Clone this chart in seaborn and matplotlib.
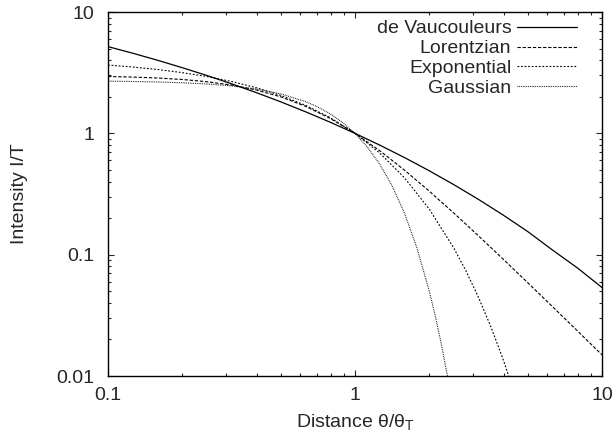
import matplotlib
matplotlib.use("Agg")
import matplotlib.pyplot as plt
import seaborn as sns
import pandas as pd
from matplotlib.ticker import LogLocator, FixedLocator, NullFormatter

# ---- data ----
x_dv = [0.1, 0.12589, 0.15849, 0.19953, 0.25119, 0.31623, 0.39811, 0.50119, 0.63096, 0.79433,
        1.0, 1.25893, 1.58489, 1.99526, 2.51189, 3.16228, 3.98107, 5.01187, 6.30957, 7.94328, 10.0]
y_dv = [5.185, 4.575, 4.005, 3.479, 2.999, 2.561, 2.167, 1.816, 1.505, 1.234,
        1.0, 0.800, 0.632, 0.4922, 0.3777, 0.2853, 0.2120, 0.1547, 0.1090, 0.0779, 0.0536]

x_lor = x_dv
y_lor = [2.941, 2.908, 2.857, 2.779, 2.664, 2.5, 2.278, 1.997, 1.670, 1.326,
         1.0, 0.7195, 0.4980, 0.3347, 0.2203, 0.1429, 0.09175, 0.05855, 0.03721, 0.02359, 0.01493]

x_exp = [0.1, 0.12589, 0.15849, 0.19953, 0.25119, 0.31623, 0.39811, 0.50119, 0.63096, 0.79433,
         1.0, 1.25893, 1.58489, 1.99526, 2.51189, 2.81838, 3.16228, 3.54813, 3.98107, 4.46684]
y_exp = [3.654, 3.521, 3.359, 3.167, 2.940, 2.677, 2.378, 2.051, 1.701, 1.345,
         1.0, 0.6886, 0.4307, 0.2385, 0.1134, 0.07292, 0.04443, 0.02550, 0.01366, 0.00679]

x_gau = [0.1, 0.12589, 0.15849, 0.19953, 0.25119, 0.31623, 0.39811, 0.50119, 0.63096, 0.70795,
         0.79433, 0.89125, 1.0, 1.12202, 1.25893, 1.41254, 1.58489, 1.77828, 1.99526, 2.11349,
         2.23872, 2.37137, 2.51189]
y_gau = [2.691, 2.675, 2.651, 2.612, 2.552, 2.460, 2.320, 2.114, 1.826, 1.647,
         1.446, 1.228, 1.0, 0.7717, 0.5572, 0.3697, 0.2205, 0.1150, 0.05074, 0.03122,
         0.01810, 0.00982, 0.00494]

labels = ["de Vaucouleurs", "Lorentzian", "Exponential", "Gaussian"]
x_ticks = [0.1, 1, 10]
x_ticklabels = ["0.1", "1", "10"]
y_ticks = [0.01, 0.1, 1, 10]
y_ticklabels = ["0.01", "0.1", "1", "10"]

# ---- style ----
sns.set_style("ticks")
plt.rcParams["font.family"] = ["Liberation Sans", "DejaVu Sans"]
plt.rcParams["mathtext.fontset"] = "custom"
plt.rcParams["mathtext.rm"] = "Liberation Sans"

FS = 14
fig = plt.figure(figsize=(6.14, 4.4), dpi=100)
ax = fig.add_axes([108 / 614, 64 / 440, (602 - 108) / 614, (376 - 12) / 440])

series = [(x_dv, y_dv), (x_lor, y_lor), (x_exp, y_exp), (x_gau, y_gau)]
dash_styles = ["-", (0, (3.0, 1.6)), (0, (1.6, 1.6)), (0, (0.7, 0.9))]
lws = [0.9, 0.8, 0.8, 0.8]
for (xs, ys), lab, ls, lw in zip(series, labels, dash_styles, lws):
    df = pd.DataFrame({"x": xs, "y": ys})
    sns.lineplot(data=df, x="x", y="y", ax=ax, color="black", lw=lw,
                 linestyle=ls, label=lab, sort=False)

ax.set_xscale("log")
ax.set_yscale("log")
ax.set_xlim(0.1, 10)
ax.set_ylim(0.01, 10)

ax.xaxis.set_major_locator(FixedLocator(x_ticks))
ax.set_xticklabels(x_ticklabels)
ax.yaxis.set_major_locator(FixedLocator(y_ticks))
ax.set_yticklabels(y_ticklabels)
ax.xaxis.set_minor_locator(LogLocator(base=10, subs=range(2, 10)))
ax.yaxis.set_minor_locator(LogLocator(base=10, subs=range(2, 10)))
ax.xaxis.set_minor_formatter(NullFormatter())
ax.yaxis.set_minor_formatter(NullFormatter())

ax.tick_params(which="both", direction="in", top=True, right=True, labelsize=FS, width=0.8)
ax.tick_params(which="major", length=4.5)
ax.tick_params(which="minor", length=2.2)
ax.tick_params(axis="x", which="major", pad=8)
ax.tick_params(axis="y", which="major", pad=10)
for s in ax.spines.values():
    s.set_linewidth(1.0)
    s.set_color("black")

ax.set_xlabel(r"Distance θ/θ$_{\mathregular{T}}$", fontsize=FS, labelpad=6)
ax.set_ylabel("Intensity I/T", fontsize=FS, labelpad=20)

leg = ax.legend(loc="upper right", frameon=False, markerfirst=False, fontsize=FS,
                handlelength=3.1, handletextpad=0.3, labelspacing=0.12,
                borderaxespad=0.0, bbox_to_anchor=(0.966, 1.0))

fig.savefig("out.png", dpi=100)
